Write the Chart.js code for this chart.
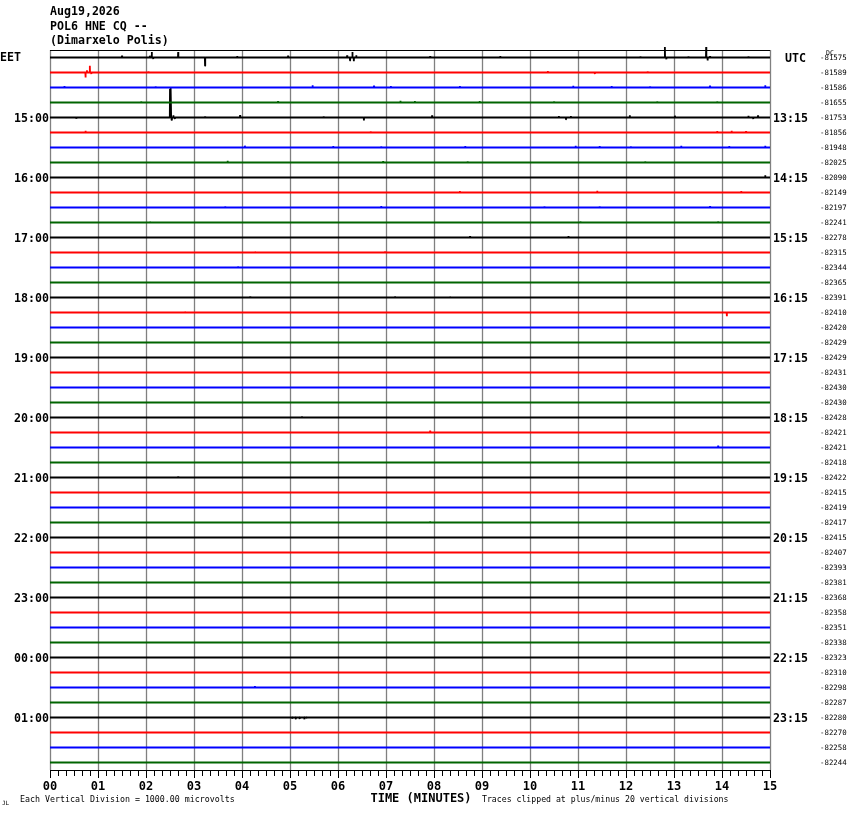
<!DOCTYPE html>
<html>
<head>
<meta charset="utf-8">
<title>POL6 HNE CQ helicorder</title>
<script src="https://cdn.jsdelivr.net/npm/chart.js@4/dist/chart.umd.min.js"></script>
<style>
  html, body { margin: 0; padding: 0; background: #ffffff; }
  #heli { display: block; }
</style>
</head>
<body>
<canvas id="heli" width="850" height="814"></canvas>
<script>
// header text
const titleLines = ['Aug19,2026', 'POL6 HNE CQ --', '(Dimarxelo Polis)'];

// x axis: minutes
const minuteLabels = ['00', '01', '02', '03', '04', '05', '06', '07', '08', '09', '10', '11', '12', '13', '14', '15'];

// one label every 4 traces (hourly)
const localHours = ['EET', '15:00', '16:00', '17:00', '18:00', '19:00', '20:00', '21:00', '22:00', '23:00', '00:00', '01:00'];
const utcHours = ['UTC', '13:15', '14:15', '15:15', '16:15', '17:15', '18:15', '19:15', '20:15', '21:15', '22:15', '23:15'];

// DC offset per trace (right column)
const dcValues = [
  -81575, -81589, -81586, -81655, -81753, -81856, -81948, -82025,
  -82090, -82149, -82197, -82241, -82278, -82315, -82344, -82365,
  -82391, -82410, -82420, -82429, -82429, -82431, -82430, -82430,
  -82428, -82421, -82421, -82418, -82422, -82415, -82419, -82417,
  -82415, -82407, -82393, -82381, -82368, -82358, -82351, -82338,
  -82323, -82310, -82298, -82287, -82280, -82270, -82258, -82244
];

const traceColors = ['#000000', '#ff0000', '#0000ff', '#006400'];

// visible wiggles per trace: [minute, amplitude in trace spacings, + is up]
const events = {
  0: [[1.50, 0.13], [2.08, 0.12], [2.12, 0.37], [2.15, -0.1], [2.67, 0.37], [3.23, -0.55], [3.90, 0.1], [4.96, 0.12],
      [6.19, 0.15], [6.25, -0.2], [6.30, 0.37], [6.33, -0.25], [6.38, 0.15], [7.92, 0.1], [9.38, 0.1], [12.30, 0.08],
      [12.81, 0.7], [12.84, -0.12], [13.30, 0.08], [13.67, 0.7], [13.70, -0.2], [13.75, 0.1], [14.55, 0.08]],
  1: [[0.74, -0.33], [0.77, 0.15], [0.83, 0.45], [0.86, -0.1], [2.05, 0.08], [7.35, 0.07], [10.37, 0.1], [11.35, -0.1], [12.45, 0.08]],
  2: [[0.30, 0.1], [2.20, 0.08], [5.47, 0.15], [6.75, 0.12], [7.10, 0.1], [8.54, 0.1], [10.90, 0.12], [11.70, 0.1],
      [12.50, 0.08], [13.75, 0.12], [14.90, 0.15]],
  3: [[1.90, 0.08], [3.70, 0.07], [4.75, 0.1], [7.30, 0.12], [7.60, 0.1], [8.95, 0.1], [10.50, 0.08], [12.65, 0.08], [13.90, 0.08]],
  4: [[0.55, -0.08], [2.50, 1.9], [2.52, 1.97], [2.54, -0.2], [2.57, 0.15], [2.60, -0.1], [3.23, 0.08], [3.96, 0.17],
      [5.70, 0.08], [6.54, -0.2], [7.96, 0.15], [10.60, 0.1], [10.75, -0.12], [10.85, 0.1], [12.08, 0.15], [13.02, 0.12],
      [14.55, 0.12], [14.65, -0.1], [14.75, 0.14]],
  5: [[0.74, 0.12], [6.68, 0.08], [13.90, 0.1], [14.20, 0.12], [14.50, 0.1]],
  6: [[4.06, 0.12], [5.90, 0.1], [6.90, 0.08], [8.65, 0.1], [10.95, 0.12], [11.45, 0.1], [12.10, 0.08], [13.15, 0.12],
      [14.15, 0.1], [14.90, 0.12]],
  7: [[3.70, 0.12], [5.10, 0.07], [6.94, 0.1], [8.70, 0.08], [12.40, 0.08]],
  8: [[3.10, 0.07], [9.80, 0.07], [14.90, 0.15]],
  9: [[0.90, 0.07], [8.54, 0.1], [11.40, 0.12], [14.40, 0.1]],
  10: [[3.65, 0.08], [6.90, 0.1], [10.30, 0.08], [11.45, 0.08], [13.75, 0.1]],
  11: [[2.08, 0.07], [5.62, 0.07], [11.05, 0.08], [13.92, 0.07]],
  12: [[1.10, 0.06], [8.75, 0.1], [10.80, 0.1]],
  13: [[4.27, 0.07], [6.98, 0.08]],
  14: [[3.92, 0.07], [9.30, 0.06]],
  16: [[0.90, 0.07], [4.17, 0.08], [7.19, 0.07], [8.33, 0.07]],
  17: [[2.81, 0.07], [14.10, -0.25]],
  20: [[6.10, 0.06]],
  24: [[2.40, 0.07], [5.25, 0.07]],
  25: [[7.92, 0.12]],
  26: [[13.92, 0.12]],
  27: [[8.65, 0.06]],
  28: [[2.67, 0.08]],
  31: [[7.92, 0.07]],
  42: [[4.27, 0.1]],
  44: [[5.05, -0.08], [5.12, -0.12], [5.20, -0.1], [5.30, -0.12], [5.35, -0.06]]
};

const traceCount = dcValues.length;

function buildTrace(i) {
  const base = i + 0.5;
  const pts = [{ x: 0, y: base }, { x: 15, y: base }];
  (events[i] || []).forEach(([t, amp]) => {
    pts.push({ x: t - 0.004, y: base });
    pts.push({ x: t, y: base - amp });
    pts.push({ x: t + 0.004, y: base });
  });
  pts.sort((a, b) => a.x - b.x);
  return pts;
}

const datasets = [];
for (let i = 0; i < traceCount; i++) {
  datasets.push({
    data: buildTrace(i),
    borderColor: traceColors[i % 4],
    borderWidth: 1.8,
    borderJoinStyle: 'bevel',
    pointRadius: 0,
    tension: 0,
    clip: 8
  });
}

const MONO = '"DejaVu Sans Mono", "Liberation Mono", monospace';

// grid, axis, and all the text around the plot
const heliDecor = {
  id: 'heliDecor',
  beforeDatasetsDraw(chart) {
    const { ctx, chartArea: a, scales: { x } } = chart;
    ctx.save();
    // minute grid
    ctx.strokeStyle = '#808080';
    ctx.lineWidth = 1.3;
    for (let m = 0; m <= 15; m++) {
      const px = Math.round(x.getPixelForValue(m)) + 0.5;
      ctx.beginPath();
      ctx.moveTo(px, a.top);
      ctx.lineTo(px, a.bottom);
      ctx.stroke();
    }
    // top frame line
    ctx.strokeStyle = '#000000';
    ctx.lineWidth = 1.2;
    ctx.beginPath();
    ctx.moveTo(a.left, a.top + 0.5);
    ctx.lineTo(a.right, a.top + 0.5);
    ctx.stroke();
    ctx.restore();
  },
  afterDraw(chart) {
    const { ctx, chartArea: a, scales: { x, y } } = chart;
    ctx.save();
    ctx.fillStyle = '#000000';
    ctx.strokeStyle = '#000000';

    // bottom axis with 10 second ticks
    ctx.lineWidth = 1.2;
    ctx.beginPath();
    ctx.moveTo(a.left, a.bottom + 0.5);
    ctx.lineTo(a.right, a.bottom + 0.5);
    ctx.stroke();
    ctx.lineWidth = 1;
    for (let k = 0; k <= 15 * 6; k++) {
      const px = Math.round(x.getPixelForValue(k / 6)) + 0.5;
      const len = k % 6 === 0 ? 8 : 6;
      ctx.beginPath();
      ctx.moveTo(px, a.bottom);
      ctx.lineTo(px, a.bottom + len);
      ctx.stroke();
    }

    // minute labels
    ctx.font = 'bold 12px ' + MONO;
    ctx.textAlign = 'center';
    ctx.textBaseline = 'middle';
    minuteLabels.forEach((lab, m) => {
      ctx.fillText(lab, x.getPixelForValue(m), a.bottom + 17);
    });
    ctx.fillText('TIME (MINUTES)', 421, a.bottom + 29);

    // footnotes
    ctx.font = '8.3px ' + MONO;
    ctx.textAlign = 'left';
    ctx.fillText('Each Vertical Division = 1000.00 microvolts', 20, a.bottom + 30);
    ctx.font = '8.2px ' + MONO;
    ctx.fillText('Traces clipped at plus/minus 20 vertical divisions', 482, a.bottom + 30);
    ctx.font = '6px ' + MONO;
    ctx.fillText('JL', 2, a.bottom + 33);

    // title block
    ctx.font = 'bold 11.6px ' + MONO;
    titleLines.forEach((t, k) => ctx.fillText(t, 50, 12 + k * 14.5));

    // hour labels
    localHours.forEach((lab, k) => {
      const py = y.getPixelForValue(k * 4 + 0.5);
      if (k === 0) {
        ctx.textAlign = 'left';
        ctx.fillText(lab, 0, py);
      } else {
        ctx.textAlign = 'right';
        ctx.fillText(lab, 49, py + 1);
      }
    });
    ctx.textAlign = 'left';
    utcHours.forEach((lab, k) => {
      const py = y.getPixelForValue(k * 4 + 0.5);
      ctx.fillText(lab, k === 0 ? 785 : 773, py + 1);
    });

    // DC offsets
    ctx.font = '7.4px ' + MONO;
    dcValues.forEach((v, i) => {
      ctx.fillText(String(v), 820, y.getPixelForValue(i + 0.5) + 1);
    });
    ctx.font = '6.5px ' + MONO;
    ctx.fillText('DC', 826, 53);
    ctx.restore();
  }
};

const heliChart = new Chart(document.getElementById('heli').getContext('2d'), {
  type: 'line',
  data: { datasets },
  options: {
    responsive: false,
    animation: false,
    devicePixelRatio: 1,
    layout: { padding: { left: 50, right: 80, top: 50, bottom: 44 } },
    scales: {
      x: { type: 'linear', min: 0, max: 15, display: false },
      y: { type: 'linear', min: 0, max: traceCount, reverse: true, display: false }
    },
    plugins: {
      legend: { display: false },
      tooltip: { enabled: false }
    }
  },
  plugins: [heliDecor]
});
</script>
</body>
</html>
